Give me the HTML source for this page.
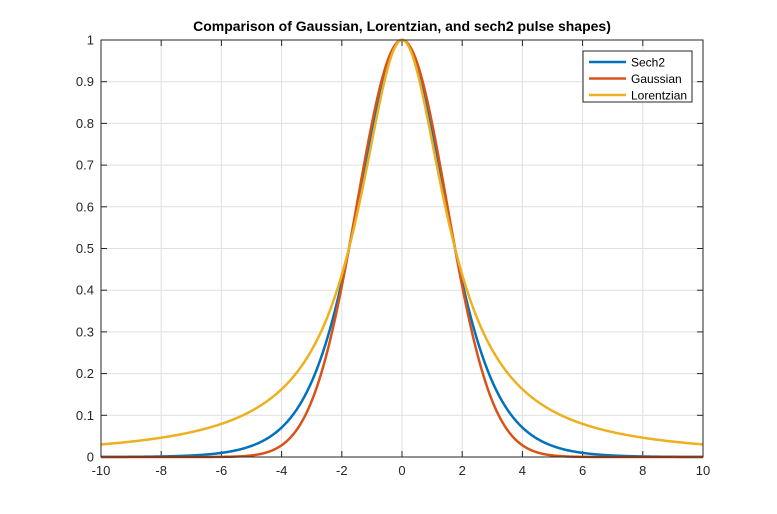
<!DOCTYPE html><html><head><style>body{margin:0;background:#fff}svg{display:block}text{font-family:"Liberation Sans",sans-serif}</style></head><body>
<svg id="s" width="777" height="514" xmlns="http://www.w3.org/2000/svg"></svg>
<script>
const L=101,R=703,T=40,B=457;
const X=x=>L+(x+10)/20*(R-L),Y=y=>B-y*(B-T);
let h='<rect width="777" height="514" fill="#fff"/>';
for(let i=-10;i<=10;i+=2){let x=X(i);if(i>-10&&i<10)h+=`<line x1="${x}" y1="${T}" x2="${x}" y2="${B}" stroke="#dfdfdf"/>`;
h+=`<line x1="${x}" y1="${B}" x2="${x}" y2="${B-6}" stroke="#262626"/><line x1="${x}" y1="${T}" x2="${x}" y2="${T+6}" stroke="#262626"/>`;
h+=`<text x="${x}" y="${B+18}" font-size="13" text-anchor="middle" fill="#262626">${i}</text>`;}
for(let j=0;j<=10;j++){let y=Y(j/10);if(j>0&&j<10)h+=`<line x1="${L}" y1="${y}" x2="${R}" y2="${y}" stroke="#dfdfdf"/>`;
h+=`<line x1="${L}" y1="${y}" x2="${L+6}" y2="${y}" stroke="#262626"/><line x1="${R}" y1="${y}" x2="${R-6}" y2="${y}" stroke="#262626"/>`;
h+=`<text x="${L-7}" y="${y+4.5}" font-size="13" text-anchor="end" fill="#262626">${j==0?0:j==10?1:(j/10).toFixed(1)}</text>`;}
const F=3.525;
const fs=[[x=>{let c=Math.cosh(x/2);return 1/(c*c)},'#0072bd'],[x=>Math.exp(-4*Math.LN2*x*x/F/F),'#d95319'],[x=>1/(1+(2*x/F)**2),'#edb120']];
for(const [f,c] of fs){let p='';for(let i=0;i<=1000;i++){let x=-10+i/50;p+=(i?'L':'M')+X(x).toFixed(2)+','+Y(f(x)).toFixed(2);}
h+=`<path d="${p}" fill="none" stroke="${c}" stroke-width="2.5"/>`;}
h+=`<rect x="${L}" y="${T}" width="${R-L}" height="${B-T}" fill="none" stroke="#262626"/>`;
h+=`<rect x="583" y="51" width="109" height="51" fill="#fff" stroke="#262626"/>`;
['Sech2','Gaussian','Lorentzian'].forEach((t,i)=>{let y=62+i*16.5;h+=`<line x1="589" y1="${y}" x2="626" y2="${y}" stroke="${fs[i][1]}" stroke-width="2.5"/><text x="631" y="${y+4.5}" font-size="12">${t}</text>`;});
h+=`<text x="402" y="31" font-size="14" font-weight="bold" text-anchor="middle">Comparison of Gaussian, Lorentzian, and sech2 pulse shapes)</text>`;
document.getElementById('s').innerHTML=h;
</script></body></html>
